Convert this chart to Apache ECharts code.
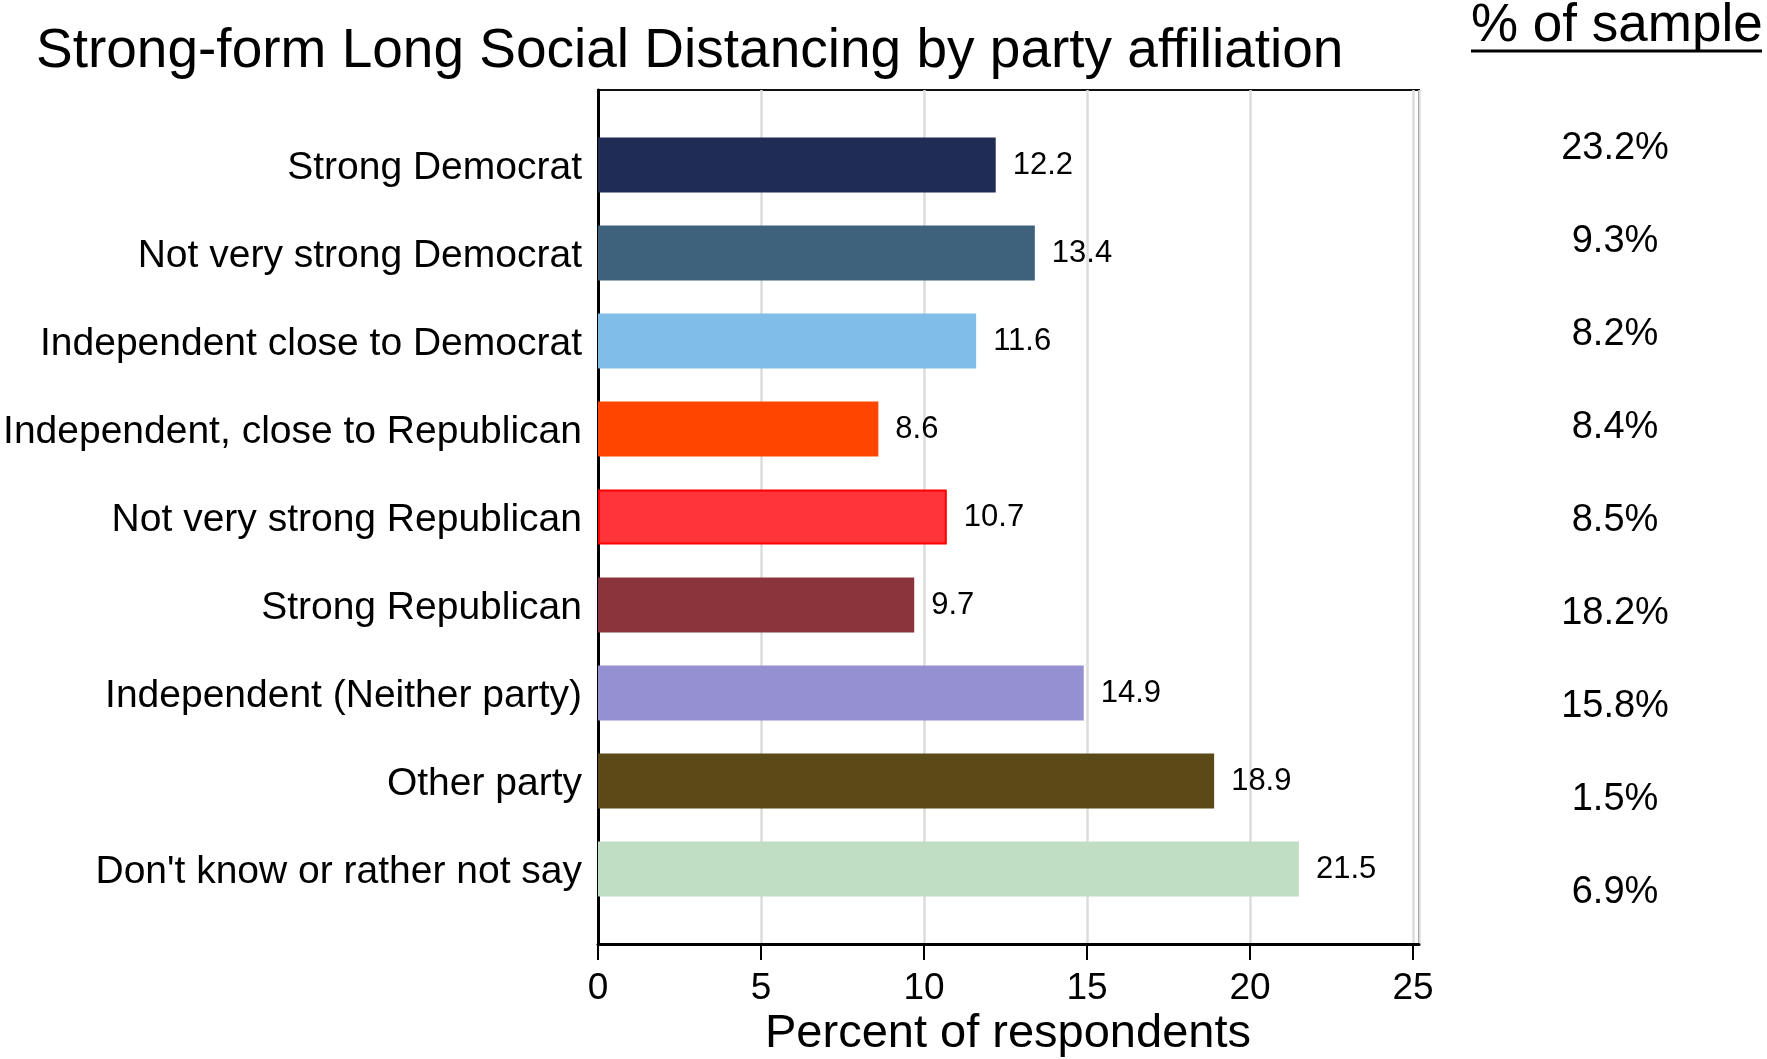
<!DOCTYPE html>
<html>
<head>
<meta charset="utf-8">
<script src="https://cdn.jsdelivr.net/npm/echarts@6/dist/echarts.min.js"></script>
<style>
html,body{margin:0;padding:0;background:#fff;}
#chart{width:1767px;height:1059px;}
</style>
</head>
<body>
<div id="chart"></div>
<script>
// ---- data ----
const categories = [
  "Strong Democrat",
  "Not very strong Democrat",
  "Independent close to Democrat",
  "Independent, close to Republican",
  "Not very strong Republican",
  "Strong Republican",
  "Independent (Neither party)",
  "Other party",
  "Don't know or rather not say"
];
const percentValues = [12.2, 13.4, 11.6, 8.6, 10.7, 9.7, 14.9, 18.9, 21.5];
const sampleShare = [23.2, 9.3, 8.2, 8.4, 8.5, 18.2, 15.8, 1.5, 6.9];
const barColors = ["#1f2d55", "#3e627c", "#80bde8", "#ff4500", "#ff333a", "#8c343c", "#9590d1", "#5c4918", "#c0dec3"];
const xTicks = [0, 5, 10, 15, 20, 25];
const titleText = "Strong-form Long Social Distancing by party affiliation";
const xAxisTitle = "Percent of respondents";
const sampleHeader = "% of sample";

const FONT = "'Liberation Sans', Arial, Helvetica, sans-serif";
const chart = echarts.init(document.getElementById('chart'), null, {renderer: 'canvas'});

const plotLeft = 598, plotRightScale = 1413, frameRight = 1419;
const xMaxFrame = xTicks[xTicks.length - 1] * (frameRight - plotLeft) / (plotRightScale - plotLeft);

const option = {
  backgroundColor: '#fff',
  animation: false,
  textStyle: {fontFamily: FONT},
  grid: [
    {left: plotLeft, right: 1767 - frameRight, top: 90, bottom: 1059 - 944, show: true, borderColor: '#111', borderWidth: 2, backgroundColor: 'transparent'},
    {left: plotLeft, width: plotRightScale - plotLeft, top: 121, height: 792},
    {left: 1615, width: 1, top: 102, height: 837}
  ],
  xAxis: [
    {
      gridIndex: 0, type: 'value', min: 0, max: xMaxFrame, interval: 5,
      axisLine: {show: true, lineStyle: {color: '#000', width: 3}},
      axisTick: {show: true, inside: false, length: 16, lineStyle: {color: '#000', width: 2}},
      axisLabel: {show: true, fontSize: 37, color: '#000', margin: 26, fontFamily: FONT, showMaxLabel: false,
        formatter: v => (xTicks.indexOf(v) >= 0 ? String(v) : '')},
      splitLine: {show: true, lineStyle: {color: '#dcdcdc', width: 2.5}}
    },
    {gridIndex: 1, type: 'value', min: 0, max: xTicks[xTicks.length - 1], show: false, splitLine: {show: false}},
    {gridIndex: 2, type: 'value', min: 0, max: 1, show: false, splitLine: {show: false}}
  ],
  yAxis: [
    {gridIndex: 0, type: 'value', min: 0, max: 1, interval: 1,
      axisLine: {show: true, lineStyle: {color: '#000', width: 3}},
      axisTick: {show: false}, axisLabel: {show: false}, splitLine: {show: false}},
    {gridIndex: 1, type: 'category', inverse: true, data: categories,
      axisLine: {show: false}, axisTick: {show: false},
      axisLabel: {fontSize: 39, color: '#000', margin: 16, fontFamily: FONT,
        formatter: v => '{c|' + v + '}',
        rich: {c: {fontSize: 39, color: '#000', fontFamily: FONT, padding: [7, 0, 0, 0]}}}},
    {gridIndex: 2, type: 'category', inverse: true, data: sampleShare.map(v => v.toFixed(1) + '%'),
      axisLine: {show: false}, axisTick: {show: false}, splitLine: {show: false},
      axisLabel: {fontSize: 38, color: '#000', margin: 0, align: 'center', fontFamily: FONT}}
  ],
  series: [
    {
      type: 'bar', xAxisIndex: 1, yAxisIndex: 1, barWidth: 55,
      data: percentValues.map((v, i) => ({
        value: v,
        itemStyle: i === 4 ? {color: barColors[i], borderColor: '#ff0000', borderWidth: 2} : {color: barColors[i]}
      })),
      label: {show: true, position: 'right', distance: 17, fontSize: 31, color: '#000', fontFamily: FONT,
        padding: [4, 0, 0, 0], formatter: p => p.value.toFixed(1)}
    }
  ],
  graphic: [
    {type: 'text', x: 36, y: 52, style: {text: titleText, font: '55px ' + FONT, fill: '#000', verticalAlign: 'middle', align: 'left'}},
    {type: 'text', x: 1471, y: 26, style: {text: sampleHeader, font: '53px ' + FONT, fill: '#000', verticalAlign: 'middle', align: 'left'}},
    {type: 'line', shape: {x1: 1471, y1: 51, x2: 1762, y2: 51}, style: {stroke: '#000', lineWidth: 3}},
    {type: 'text', x: 1008, y: 1034, style: {text: xAxisTitle, font: '47px ' + FONT, fill: '#000', verticalAlign: 'middle', align: 'center'}}
  ]
};
chart.setOption(option);
</script>
</body>
</html>
